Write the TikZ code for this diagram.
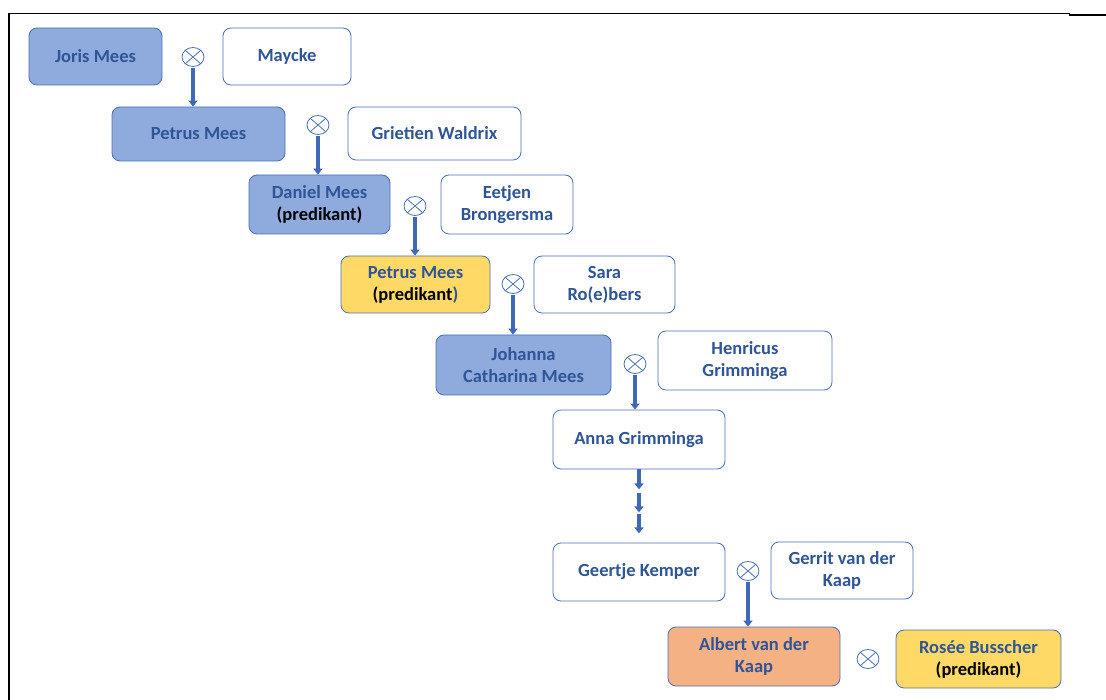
\documentclass[tikz,border=0pt]{standalone}
\usepackage{fontspec}
\setmainfont{Carlito}
\usetikzlibrary{arrows.meta,shapes.geometric,calc}
\definecolor{bfill}{HTML}{8FAADC}
\definecolor{bdraw}{HTML}{4A6FB5}
\definecolor{tblue}{HTML}{2F5597}
\definecolor{yfill}{HTML}{FFD966}
\definecolor{ofill}{HTML}{F4B183}
\definecolor{arrc}{HTML}{4068B8}
\begin{document}
\begin{tikzpicture}[x=1pt,y=-1pt,
  person/.style={draw=bdraw,line width=0.8pt,rounded corners=8pt,align=center,
    font=\bfseries\fontsize{18.5}{22}\selectfont,text=tblue,inner sep=0pt},
  blue/.style={person,fill=bfill},
  plain/.style={person,fill=white},
  yel/.style={person,fill=yfill},
  ora/.style={person,fill=ofill},
  marr/.style={ellipse,draw=bdraw,line width=0.8pt,minimum width=22pt,minimum height=19pt,inner sep=0pt,
    path picture={\draw[bdraw,line width=0.8pt]
      (path picture bounding box.north west) -- (path picture bounding box.south east)
      (path picture bounding box.north east) -- (path picture bounding box.south west);}},
  arr/.style={draw=arrc,line width=3.2pt,-{Triangle[length=6pt,width=9pt]},shorten <=1pt},
  frame/.style={draw=black}
]
\useasboundingbox (0,0) rectangle (1106,700);
% frame
\draw[frame,line width=1pt] (8,14) -- (1070,14);
\draw[frame,line width=2.5pt] (1069,15) -- (1106,15);
\draw[frame,line width=2.5pt] (9,13.5) -- (9,700);

% row 1
\node[blue,minimum width=133,minimum height=57] (joris) at (95.5,56.5) {Joris Mees};
\node[plain,minimum width=128,minimum height=57] (maycke) at (287,56.5) {Maycke};
\node[marr] (m1) at (193,57) {};
% row 2
\node[blue,minimum width=173,minimum height=54] (petrus1) at (198.5,134) {Petrus Mees};
\node[plain,minimum width=173,minimum height=53] (grietien) at (434.5,133.5) {Grietien Waldrix};
\node[marr] (m2) at (318,125) {};
% row 3
\node[blue,minimum width=141,minimum height=59] (daniel) at (319.5,204.5) {Daniel Mees\\{\color{black}(predikant)}};
\node[plain,minimum width=132,minimum height=59] (eetjen) at (507,204.5) {Eetjen\\Brongersma};
\node[marr] (m3) at (415,206) {};
% row 4
\node[yel,minimum width=149,minimum height=57] (petrus2) at (415.5,284.5) {Petrus Mees\\{\color{black}(predikant})};
\node[plain,minimum width=141,minimum height=57] (sara) at (604.5,284.5) {Sara\\Ro(e)bers};
\node[marr] (m4) at (513,284) {};
% row 5
\node[blue,minimum width=175,minimum height=60] (johanna) at (523.5,365) {Johanna\\Catharina Mees};
\node[plain,minimum width=174,minimum height=59] (henricus) at (745,360.5) {Henricus\\Grimminga};
\node[marr] (m5) at (635,364) {};
% row 6
\node[plain,minimum width=172,minimum height=59] (anna) at (639,439.5) {Anna Grimminga};
% row 7
\node[plain,minimum width=172,minimum height=58] (geertje) at (639,572) {Geertje Kemper};
\node[plain,minimum width=142,minimum height=57] (gerrit) at (842,570.5) {Gerrit van der\\Kaap};
\node[marr] (m7) at (748,571) {};
% row 8
\node[ora,minimum width=172,minimum height=59] (albert) at (754,656.5) {Albert van der\\Kaap};
\node[yel,minimum width=165,minimum height=58] (rosee) at (978.5,659) {Ros\'ee Busscher\\{\color{black}(predikant)}};
\node[marr] (m8) at (868,659) {};

% descent arrows
\draw[arr] (m1.south) -- (m1.south |- petrus1.north);
\draw[arr] (m2.south) -- (m2.south |- daniel.north);
\draw[arr] (m3.south) -- (m3.south |- petrus2.north);
\draw[arr] (m4.south) -- (m4.south |- johanna.north);
\draw[arr] (m5.south) -- (m5.south |- anna.north);
\draw[arr] (m7.south) -- (m7.south |- albert.north);
% interrupted descent
\coordinate (d1) at ($(anna.south)+(0,20)$);
\coordinate (d2s) at ($(anna.south)+(0,24)$);
\coordinate (d2) at ($(anna.south)+(0,43)$);
\coordinate (d3s) at ($(anna.south)+(0,45)$);
\coordinate (d3) at ($(anna.south)+(0,64)$);
\draw[arr,shorten <=0pt] (anna.south) -- (d1);
\draw[arr,shorten <=0pt] (d2s) -- (d2);
\draw[arr,shorten <=0pt] (d3s) -- (d3);
\end{tikzpicture}
\end{document}
